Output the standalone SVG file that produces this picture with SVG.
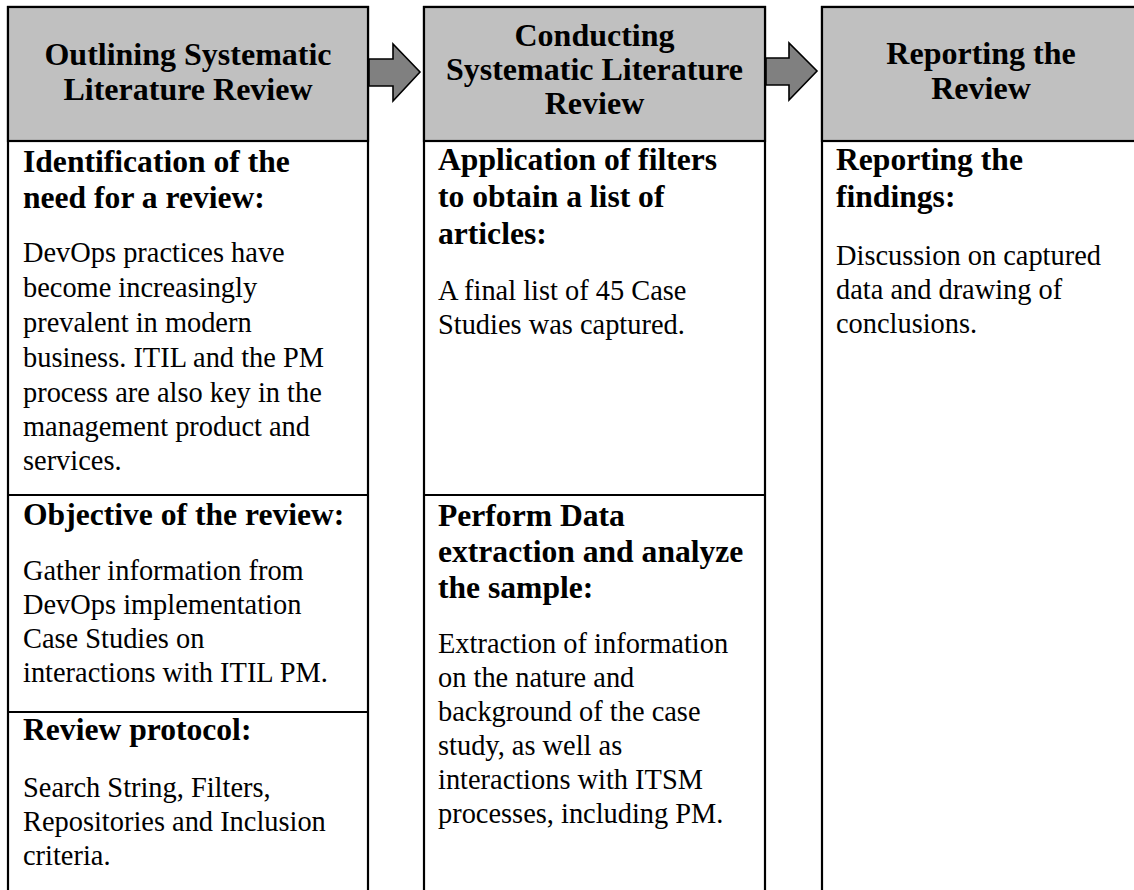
<svg xmlns="http://www.w3.org/2000/svg" width="1134" height="890" viewBox="0 0 1134 890">
  <style>
    .col { fill: #ffffff; stroke: #000000; stroke-width: 2.2; }
    .head { fill: #c0c0c0; stroke: #000000; stroke-width: 2.2; }
    .div { stroke: #000000; stroke-width: 2.2; }
    .title { font-family: "Liberation Serif", "Times New Roman", serif; font-weight: bold; font-size: 32px; fill: #000; text-anchor: middle; }
    .sub { font-family: "Liberation Serif", "Times New Roman", serif; font-weight: bold; font-size: 31.6px; fill: #000; }
    .body { font-family: "Liberation Serif", "Times New Roman", serif; font-size: 28.4px; fill: #000; }
    .arrow { fill: #808080; stroke: #000000; stroke-width: 1.6; stroke-linejoin: miter; }
  </style>

  <!-- Column 1: outlining -->
  <g id="outlining">
    <rect class="col" x="8" y="7" width="360" height="900"/>
    <rect class="head" x="8" y="7" width="360" height="134"/>
    <text class="title" x="188" y="65">Outlining Systematic</text>
    <text class="title" x="188" y="100">Literature Review</text>
    <line class="div" x1="8" y1="495" x2="368" y2="495"/>
    <line class="div" x1="8" y1="712" x2="368" y2="712"/>
  </g>
  <g id="need-for-review">
    <text class="sub" x="23" y="172">Identification of the</text>
    <text class="sub" x="23" y="208">need for a review:</text>
    <text class="body" x="23" y="262">DevOps practices have</text>
    <text class="body" x="23" y="297">become increasingly</text>
    <text class="body" x="23" y="332">prevalent in modern</text>
    <text class="body" x="23" y="367">business. ITIL and the PM</text>
    <text class="body" x="23" y="402">process are also key in the</text>
    <text class="body" x="23" y="436">management product and</text>
    <text class="body" x="23" y="470">services.</text>
  </g>
  <g id="objective">
    <text class="sub" x="23" y="525">Objective of the review:</text>
    <text class="body" x="23" y="580">Gather information from</text>
    <text class="body" x="23" y="614">DevOps implementation</text>
    <text class="body" x="23" y="648">Case Studies on</text>
    <text class="body" x="23" y="682">interactions with ITIL PM.</text>
  </g>
  <g id="protocol">
    <text class="sub" x="23" y="740">Review protocol:</text>
    <text class="body" x="23" y="797">Search String, Filters,</text>
    <text class="body" x="23" y="831">Repositories and Inclusion</text>
    <text class="body" x="23" y="865">criteria.</text>
  </g>

  <!-- Column 2: conducting -->
  <g id="conducting">
    <rect class="col" x="424" y="7" width="341" height="900"/>
    <rect class="head" x="424" y="7" width="341" height="134"/>
    <text class="title" x="594.5" y="46">Conducting</text>
    <text class="title" x="594.5" y="80">Systematic Literature</text>
    <text class="title" x="594.5" y="114">Review</text>
    <line class="div" x1="424" y1="495" x2="765" y2="495"/>
  </g>
  <g id="filters">
    <text class="sub" x="438" y="170">Application of filters</text>
    <text class="sub" x="438" y="207">to obtain a list of</text>
    <text class="sub" x="438" y="244">articles:</text>
    <text class="body" x="438" y="300">A final list of 45 Case</text>
    <text class="body" x="438" y="334">Studies was captured.</text>
  </g>
  <g id="extraction">
    <text class="sub" x="438" y="526">Perform Data</text>
    <text class="sub" x="438" y="562">extraction and analyze</text>
    <text class="sub" x="438" y="598">the sample:</text>
    <text class="body" x="438" y="653">Extraction of information</text>
    <text class="body" x="438" y="687">on the nature and</text>
    <text class="body" x="438" y="721">background of the case</text>
    <text class="body" x="438" y="755">study, as well as</text>
    <text class="body" x="438" y="789">interactions with ITSM</text>
    <text class="body" x="438" y="823">processes, including PM.</text>
  </g>

  <!-- Column 3: reporting -->
  <g id="reporting">
    <rect class="col" x="822" y="7" width="320" height="900"/>
    <rect class="head" x="822" y="7" width="320" height="134"/>
    <text class="title" x="981" y="64">Reporting the</text>
    <text class="title" x="981" y="99">Review</text>
  </g>
  <g id="findings">
    <text class="sub" x="836" y="170">Reporting the</text>
    <text class="sub" x="836" y="207">findings:</text>
    <text class="body" x="836" y="265">Discussion on captured</text>
    <text class="body" x="836" y="299">data and drawing of</text>
    <text class="body" x="836" y="333">conclusions.</text>
  </g>

  <!-- Block arrows between phases -->
  <g id="connectors">
    <polygon class="arrow" points="369,59 393,59 393,44 420,72 393,101 393,86 369,86"/>
    <polygon class="arrow" points="766,58 789,58 789,43 817,71 789,100 789,85 766,85"/>
  </g>
</svg>
